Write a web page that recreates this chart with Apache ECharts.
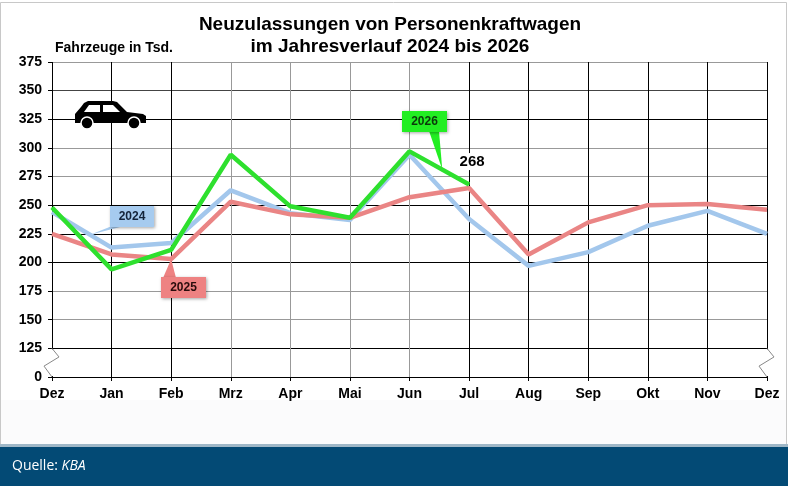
<!DOCTYPE html>
<html lang="de">
<head>
    <meta charset="UTF-8">
    <title>Neuzulassungen von Personenkraftwagen</title>
    <script src="https://cdn.jsdelivr.net/npm/echarts@6/dist/echarts.min.js"></script>
    <style>
        html, body { margin: 0; padding: 0; background: #fff; }
        #main { width: 788px; height: 486px; }
    </style>
</head>
<body>
<div id="main"></div>
<script>
    // Monate (Dez Vorjahr bis Dez)
    var months = ['Dez', 'Jan', 'Feb', 'Mrz', 'Apr', 'Mai', 'Jun', 'Jul', 'Aug', 'Sep', 'Okt', 'Nov', 'Dez'];
    // Neuzulassungen in Tsd.
    var v2024 = [244, 213, 217, 263, 243, 237, 294, 238, 197, 209, 232, 245, 225];
    var v2025 = [225, 207, 203, 253, 242, 239, 257, 265, 207, 235, 250, 251, 246];
    var v2026 = [248, 194, 211, 294, 249, 239, 297, 268];
    // Achse: 100 steht fuer die gebrochene 0
    var yMin = 100, yMax = 375, yStep = 25;
    var yBreakLabel = '0';

    var font = "'Liberation Sans', Arial, sans-serif";
    var blue = '#a3c7ec', red = '#ea8585', green = '#2ee02e';

    var dom = document.getElementById('main');
    var myChart = echarts.init(dom);

    var option = {
        backgroundColor: '#fff',
        animation: false,
        textStyle: { fontFamily: font },
        grid: { left: 52, right: 21, top: 62, bottom: 109 },
        xAxis: {
            type: 'category',
            data: months,
            boundaryGap: false,
            axisLine: { lineStyle: { color: '#000', width: 1 } },
            axisTick: { show: true, length: 4, alignWithLabel: true, lineStyle: { color: '#000' } },
            axisLabel: { color: '#000', fontWeight: 'bold', fontSize: 14, margin: 10, interval: 0 },
            splitLine: {
                show: true,
                lineStyle: {
                    width: 1,
                    color: ['#000', '#000', '#000', '#999', '#999', '#999', '#999', '#000', '#000', '#000', '#000', '#000', '#000']
                }
            }
        },
        yAxis: {
            type: 'value',
            min: yMin,
            max: yMax,
            interval: yStep,
            axisLine: { show: false },
            axisTick: { show: true, length: 4, lineStyle: { color: '#000' } },
            axisLabel: {
                color: '#000', fontWeight: 'bold', fontSize: 14, margin: 10,
                formatter: function (v) { return v === yMin ? yBreakLabel : v; }
            },
            splitLine: {
                show: true,
                lineStyle: {
                    width: 1,
                    color: ['#000', '#000', '#999', '#999', '#000', '#000', '#000', '#999', '#999', '#000', '#444', '#999']
                }
            }
        },
        series: [
            {
                name: '2024', type: 'line', data: v2024, symbol: 'none', z: 3,
                lineStyle: { color: blue, width: 4.5 }
            },
            {
                name: '2025', type: 'line', data: v2025, symbol: 'none', z: 4,
                lineStyle: { color: red, width: 4.5 }
            },
            {
                name: '2026', type: 'line', z: 5,
                symbol: 'circle', symbolSize: 1, showSymbol: true,
                itemStyle: { color: green },
                lineStyle: { color: green, width: 4.5 },
                data: v2026.map(function (v, i) {
                    if (i === v2026.length - 1) {
                        return {
                            value: v,
                            label: {
                                show: true, position: 'top', distance: 14,
                                color: '#000', fontWeight: 'bold', fontSize: 15, offset: [3, 0],
                                backgroundColor: '#fff', padding: [1, 1]
                            }
                        };
                    }
                    return v;
                })
            }
        ]
    };
    myChart.setOption(option);

    // Hilfsfunktionen fuer die Beschriftungen
    function px(i, v) { return myChart.convertToPixel({ gridIndex: 0 }, [i, v]); }
    function along(arr, i, t) {
        var a = px(i, arr[i]), b = px(i + 1, arr[i + 1]);
        return [a[0] + (b[0] - a[0]) * t, a[1] + (b[1] - a[1]) * t];
    }

    function callout(rect, base, tip, fill, textColor, text) {
        return [
            {
                type: 'polygon', z: 20,
                shape: { points: [base[0], base[1], tip] },
                style: { fill: fill }
            },
            {
                type: 'rect', z: 21,
                shape: { x: rect[0], y: rect[1], width: rect[2], height: rect[3] },
                style: { fill: fill, shadowBlur: 3, shadowOffsetX: 1, shadowOffsetY: 1, shadowColor: 'rgba(0,0,0,0.35)' }
            },
            {
                type: 'text', z: 22,
                x: rect[0] + rect[2] / 2, y: rect[1] + rect[3] / 2,
                style: { text: text, fill: textColor, font: 'bold 12px ' + font, align: 'center', verticalAlign: 'middle' }
            }
        ];
    }

    function breakMark(x, yTop, yBot) {
        var h = yBot - yTop;
        return [
            {
                type: 'rect', z: 15,
                shape: { x: x - 3, y: yTop + 1, width: 6, height: h - 2 },
                style: { fill: '#fff' }
            },
            {
                type: 'polyline', z: 16,
                shape: { points: [[x, yTop], [x + 7, yTop + h * 0.3], [x - 8, yTop + h * 0.62], [x, yBot]] },
                style: { stroke: '#888', lineWidth: 1, fill: null }
            }
        ];
    }

    var p125 = px(0, yMin + yStep), p0 = px(0, yMin);
    var pR125 = px(months.length - 1, yMin + yStep);

    var tip24 = along(v2024, 0, 0.64);
    var tip25 = px(2, v2025[2]);
    var tip26 = along(v2026, 6, 0.55);

    var elements = [];
    // Rahmen und Fussleiste
    elements.push({ type: 'rect', z: -1, shape: { x: 0.5, y: 2.5, width: 786, height: 442 }, style: { fill: 'none', stroke: '#c8c8c8', lineWidth: 1 } });
    elements.push({ type: 'rect', z: -2, shape: { x: 1, y: 400, width: 785, height: 44 }, style: { fill: '#fbfbfc' } });
    elements.push({ type: 'rect', z: 1, shape: { x: 0, y: 444, width: 788, height: 3 }, style: { fill: '#9fb7c7' } });
    elements.push({ type: 'rect', z: 1, shape: { x: 0, y: 447, width: 788, height: 39 }, style: { fill: '#034a75' } });
    elements.push({
        type: 'text', z: 2, x: 12, y: 466,
        style: {
            text: 'Quelle: {i|KBA}', fill: '#fff', font: "14px 'Open Sans', sans-serif", verticalAlign: 'middle',
            rich: { i: { fontStyle: 'italic', fill: '#fff', fontSize: 14, fontFamily: "'Open Sans', sans-serif" } }
        }
    });
    // Titel
    elements.push({
        type: 'text', x: 390, y: 25,
        style: { text: 'Neuzulassungen von Personenkraftwagen', fill: '#000', font: 'bold 19px ' + font, align: 'center', verticalAlign: 'middle' }
    });
    elements.push({
        type: 'text', x: 390, y: 47,
        style: { text: 'im Jahresverlauf 2024 bis 2026', fill: '#000', font: 'bold 19px ' + font, align: 'center', verticalAlign: 'middle' }
    });
    elements.push({
        type: 'text', x: 55, y: 48,
        style: { text: 'Fahrzeuge in Tsd.', fill: '#000', font: 'bold 14px ' + font, verticalAlign: 'middle' }
    });
    // Achsenbruch
    elements = elements.concat(breakMark(p125[0], p125[1], p0[1]));
    elements = elements.concat(breakMark(pR125[0], pR125[1], p0[1]));
    // Auto-Symbol
    elements.push({
        type: 'group', x: 75, y: 100, z: 10,
        children: [
            {
                type: 'polygon',
                shape: { points: [[0, 14], [6, 7], [9, 3], [13, 1], [38, 1], [42, 2], [52, 12], [68, 14], [71, 16], [71, 23], [0, 23]] },
                style: { fill: '#000' }
            },
            { type: 'polygon', shape: { points: [[9, 12], [14, 5], [25, 5], [25, 12]] }, style: { fill: '#fff' } },
            { type: 'polygon', shape: { points: [[28, 5], [38, 5], [45, 12], [28, 12]] }, style: { fill: '#fff' } },
            { type: 'circle', shape: { cx: 12, cy: 23, r: 6 }, style: { fill: '#000', stroke: '#fff', lineWidth: 1.5 } },
            { type: 'circle', shape: { cx: 59, cy: 23, r: 6 }, style: { fill: '#000', stroke: '#fff', lineWidth: 1.5 } }
        ]
    });
    // Jahres-Beschriftungen
    elements = elements.concat(callout([110, 206, 44, 21], [[112, 226], [124, 226]], tip24, '#a6cbef', '#14243a', '2024'));
    elements = elements.concat(callout([161, 277, 45, 21], [[163, 278], [176, 278]], tip25, '#ee8282', '#2a0c0c', '2025'));
    elements = elements.concat(callout([402, 111, 45, 21], [[429, 131], [439, 131]], tip26, '#22ee22', '#0b3a0b', '2026'));

    myChart.setOption({ graphic: { elements: elements } });
</script>
</body>
</html>
